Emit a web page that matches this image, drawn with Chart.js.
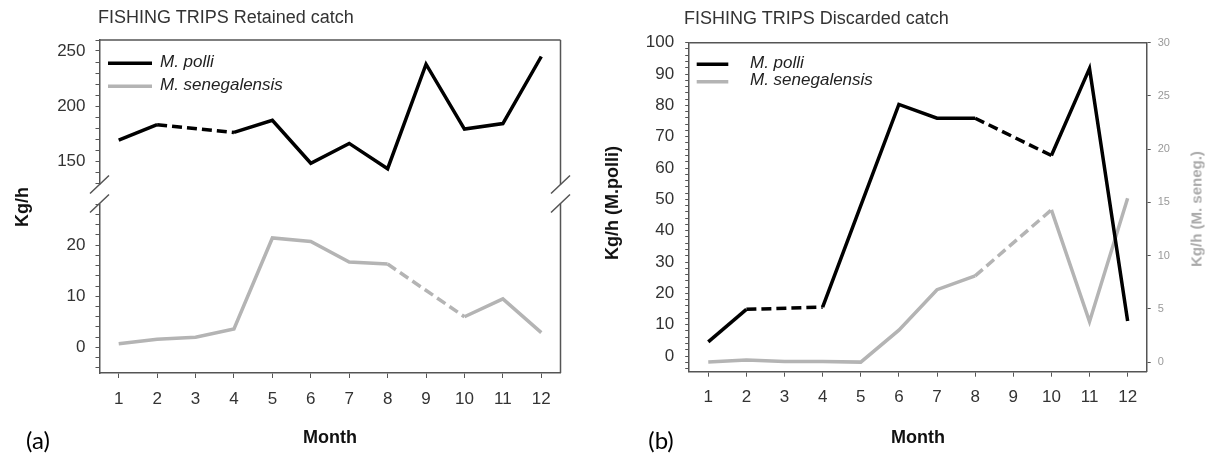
<!DOCTYPE html>
<html>
<head>
<meta charset="utf-8">
<script src="https://cdn.jsdelivr.net/npm/chart.js@4.4.1/dist/chart.umd.min.js"></script>
<style>
  html, body { margin: 0; padding: 0; background: #fff; }
  #wrap { position: relative; width: 1208px; height: 457px; overflow: hidden; font-family: "Liberation Sans", Arial, sans-serif; }
  canvas { position: absolute; top: 0; }
  #cA { left: 0; }
  #cB { left: 604px; }
  .t { position: absolute; white-space: nowrap; line-height: 1; }
  .title { font-size: 18px; color: #333; transform: translateY(-50%); }
  .vt { font-size: 18px; font-weight: bold; color: #111; transform: translate(-50%, -50%) rotate(-90deg); }
  .grey { color: #aaa; font-size: 15px; }
  .lab { font-family: Lato, "Open Sans", sans-serif; font-size: 24px; color: #000; transform: translate(-50%, -50%); }
</style>
</head>
<body>
<div id="wrap">
  <canvas id="cA" width="604" height="457"></canvas>
  <canvas id="cB" width="604" height="457"></canvas>
  <div class="t title" style="left:98px;top:17px">FISHING TRIPS Retained catch</div>
  <div class="t title" style="left:684px;top:18px">FISHING TRIPS Discarded catch</div>
  <div class="t vt" style="left:22px;top:207px">Kg/h</div>
  <div class="t vt" style="left:612px;top:203px">Kg/h (M.polli)</div>
  <div class="t vt grey" style="left:1196px;top:209px">Kg/h (M. seneg.)</div>
  <div class="t lab" style="left:38px;top:440px">(a)</div>
  <div class="t lab" style="left:661px;top:440px">(b)</div>
</div>
<script>
const months = ['1', '2', '3', '4', '5', '6', '7', '8', '9', '10', '11', '12'];
const speciesNames = ['M. polli', 'M. senegalensis'];

// (a) retained catch, Kg/h
const retainedPolli = [169, 183, null, 176, 187, 148, 166, 143, 238, 179, 184, 245];
const retainedSeneg = [0.7, 1.6, 2.0, 3.6, 21.4, 20.7, 16.7, 16.3, null, 6.0, 9.5, 2.9];

// (b) discarded catch, Kg/h (polli on left axis, seneg on right axis)
const discardedPolli = [4.5, 14.9, null, 15.6, 48, 80.3, 75.9, 75.9, null, 64, 91.8, 11.2];
const discardedSeneg = [0, 0.2, 0.05, 0.05, 0, 3.0, 6.8, 8.1, null, 14.3, 3.8, 15.4];

// tick labels
const retainedTopTicks = [150, 200, 250];
const retainedBottomTicks = [0, 10, 20];
const discardedLeftTicks = [0, 10, 20, 30, 40, 50, 60, 70, 80, 90, 100];
const discardedRightTicks = [0, 5, 10, 15, 20, 25, 30];

const axisColor = '#555';
const black = '#000';
const grey = '#b4b4b4';
const font = 'Liberation Sans';

// missing month -> dashed segment across the gap
const gapDash = ctx => (ctx.p0.skip || ctx.p1.skip ? [10, 5] : undefined);

function tickList(from, to, step) {
  const out = [];
  for (let v = from; v <= to + 1e-9; v += step) out.push({ value: Math.round(v * 1000) / 1000 });
  return out;
}

function yAxis(o) {
  return {
    type: 'linear',
    position: o.position || 'left',
    min: o.min,
    max: o.max,
    stack: o.stack,
    stackWeight: o.weight,
    afterBuildTicks: s => { s.ticks = tickList(o.from, o.to, o.step); },
    afterFit: s => { s.width = o.width; },
    grid: { drawOnChartArea: false, tickLength: 4, color: axisColor, tickColor: axisColor },
    border: { color: axisColor, width: 1.5 },
    ticks: {
      autoSkip: false,
      padding: o.padding,
      color: o.color || '#333',
      font: { family: font, size: o.size || 17 },
      callback: v => (o.major.includes(v) ? String(v) : '')
    }
  };
}

function xAxis(height, pad) {
  return {
    type: 'category',
    offset: true,
    afterFit: s => { s.height = height; },
    grid: { offset: false, drawOnChartArea: false, tickLength: 5, color: axisColor },
    border: { color: axisColor, width: 1.5 },
    ticks: { autoSkip: false, maxRotation: 0, padding: pad, color: '#333', font: { family: font, size: 17 } },
    title: { display: true, text: 'Month', color: '#111', font: { family: font, size: 18, weight: 'bold' }, padding: { top: 0, bottom: 8 } }
  };
}

function series(label, data, color, axis) {
  return {
    label, data, yAxisID: axis,
    borderColor: color, borderWidth: 3.5,
    pointRadius: 0, tension: 0, spanGaps: true,
    segment: { borderDash: gapDash }
  };
}

const framePlugin = {
  id: 'frame',
  afterDraw(chart, args, o) {
    const { ctx, chartArea: a } = chart;
    ctx.save();
    ctx.strokeStyle = axisColor;
    ctx.lineWidth = 1.5;
    ctx.beginPath();
    ctx.moveTo(a.left, a.top);
    ctx.lineTo(a.right, a.top);
    if (o.right) {
      ctx.moveTo(a.right, a.top);
      ctx.lineTo(a.right, a.bottom);
    }
    ctx.stroke();
    if (o.breakScale) {
      const y = chart.scales[o.breakScale].bottom;
      const g = 9.5;
      [a.left, a.right].forEach(x => {
        ctx.fillStyle = '#fff';
        ctx.fillRect(x - 3, y - g, 6, g * 2);
        ctx.beginPath();
        [-g, g].forEach(dy => {
          ctx.moveTo(x - 9.5, y + dy + 9);
          ctx.lineTo(x + 9.5, y + dy - 9);
        });
        ctx.stroke();
      });
    }
    ctx.restore();
  }
};

const legendPlugin = {
  id: 'lineLegend',
  afterDraw(chart, args, o) {
    const ctx = chart.ctx;
    ctx.save();
    ctx.font = 'italic 17px "' + font + '"';
    ctx.textBaseline = 'middle';
    chart.data.datasets.forEach((ds, i) => {
      const y = o.y + i * o.rowGap;
      ctx.strokeStyle = ds.borderColor;
      ctx.lineWidth = 3.5;
      ctx.beginPath();
      ctx.moveTo(o.x, y);
      ctx.lineTo(o.x + o.len, y);
      ctx.stroke();
      ctx.fillStyle = '#222';
      ctx.fillText(ds.label, o.textX, y - 1);
    });
    ctx.restore();
  }
};

// (a) retained catch, broken y axis made of two stacked scales
new Chart(document.getElementById('cA'), {
  type: 'line',
  data: {
    labels: months,
    datasets: [
      series(speciesNames[0], retainedPolli, black, 'yTop'),
      series(speciesNames[1], retainedSeneg, grey, 'yBot')
    ]
  },
  options: {
    responsive: false,
    animation: false,
    layout: { padding: { top: 40, right: 43.5, left: 0, bottom: 0 } },
    scales: {
      x: xAxis(84, 11),
      yBot: yAxis({ min: -5, max: 30, from: -4, to: 28, step: 2, major: retainedBottomTicks, stack: 'a', weight: 179, width: 99.5, padding: 10 }),
      yTop: yAxis({ min: 120, max: 260, from: 130, to: 260, step: 10, major: retainedTopTicks, stack: 'a', weight: 154, width: 99.5, padding: 10 })
    },
    plugins: {
      legend: { display: false },
      tooltip: { enabled: false },
      frame: { right: true, breakScale: 'yTop' },
      lineLegend: { x: 108, len: 44, textX: 160, y: 63.3, rowGap: 23 }
    }
  },
  plugins: [framePlugin, legendPlugin]
});

// (b) discarded catch, two y axes
new Chart(document.getElementById('cB'), {
  type: 'line',
  data: {
    labels: months,
    datasets: [
      series(speciesNames[0], discardedPolli, black, 'y'),
      series(speciesNames[1], discardedSeneg, grey, 'y2')
    ]
  },
  options: {
    responsive: false,
    animation: false,
    layout: { padding: { top: 42.7, right: 0, left: 0, bottom: 0 } },
    scales: {
      x: xAxis(85.3, 10),
      y: yAxis({ min: -5, max: 100, from: -4, to: 100, step: 2, major: discardedLeftTicks, width: 85.2, padding: 11 }),
      y2: yAxis({ position: 'right', min: -0.9, max: 30, from: 0, to: 30, step: 5, major: discardedRightTicks, width: 61.3, padding: 7, size: 11, color: '#999' })
    },
    plugins: {
      legend: { display: false },
      tooltip: { enabled: false },
      frame: { right: false },
      lineLegend: { x: 92.7, len: 31.6, textX: 146, y: 64.3, rowGap: 17.4 }
    }
  },
  plugins: [framePlugin, legendPlugin]
});
</script>
</body>
</html>
